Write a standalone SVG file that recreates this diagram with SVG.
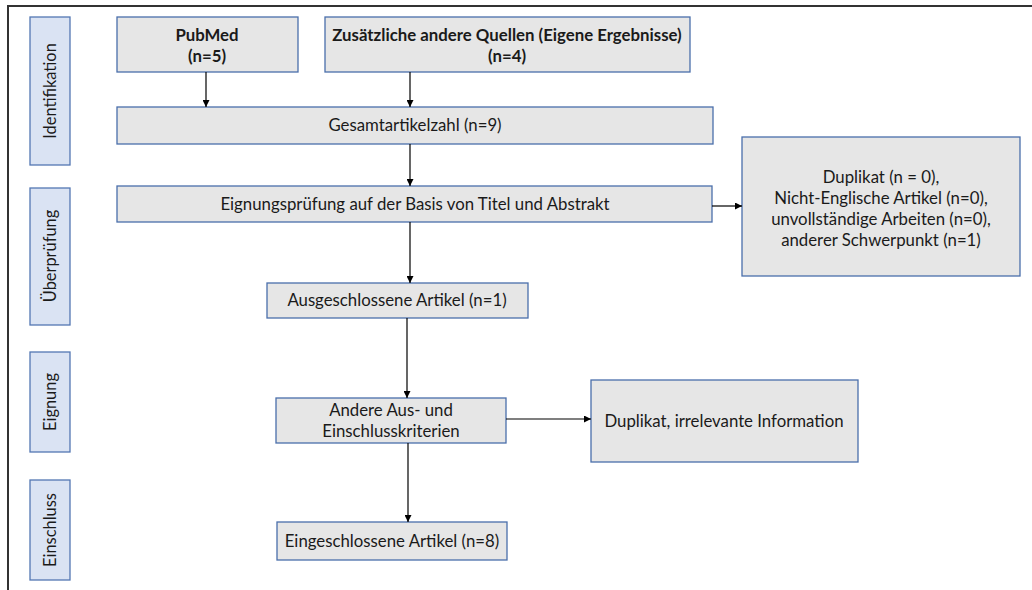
<svg xmlns="http://www.w3.org/2000/svg" width="1032" height="590" viewBox="0 0 1032 590">
<style>
.box{fill:#e6e6e6;stroke:#4a6fab;stroke-width:1.3}
.side{fill:#dae3f3;stroke:#5377b3;stroke-width:1.3}
text{font-family:"Lato","Liberation Sans",sans-serif;font-size:16.8px;fill:#1a1a1a;text-anchor:middle}
.b{font-weight:bold}
.s{font-size:16.4px}
.conn line{stroke:#000;stroke-width:1.2}
</style>
<defs>
<marker id="ah" viewBox="0 0 10 10" refX="10" refY="5" markerWidth="7" markerHeight="7" markerUnits="userSpaceOnUse" orient="auto">
<path d="M0,0 L10,5 L0,10 z" fill="#000"/>
</marker>
</defs>
<rect width="1032" height="590" fill="#fff"/>
<path d="M8,590 V6 H1032" fill="none" stroke="#333" stroke-width="2"/>

<g id="lbl-identifikation"><rect class="side" x="30" y="17" width="40" height="148"/><text class="s" transform="translate(56,91) rotate(-90)">Identifikation</text></g>
<g id="lbl-ueberpruefung"><rect class="side" x="30" y="188" width="40" height="137"/><text class="s" transform="translate(56,256) rotate(-90)">Überprüfung</text></g>
<g id="lbl-eignung"><rect class="side" x="30" y="352" width="40" height="100"/><text class="s" transform="translate(56,402) rotate(-90)">Eignung</text></g>
<g id="lbl-einschluss"><rect class="side" x="30" y="480" width="40" height="100"/><text class="s" transform="translate(56,530) rotate(-90)">Einschluss</text></g>

<g id="pubmed"><rect class="box" x="117" y="17" width="181" height="55"/><text class="b" x="207" y="41">PubMed</text><text class="b" x="207" y="62">(n=5)</text></g>
<g id="andere-quellen"><rect class="box" x="325" y="17" width="365" height="55"/><text class="b" x="507" y="41">Zusätzliche andere Quellen (Eigene Ergebnisse)</text><text class="b" x="507" y="62">(n=4)</text></g>
<g id="gesamt"><rect class="box" x="117" y="107" width="596" height="37"/><text x="415" y="131">Gesamtartikelzahl (n=9)</text></g>
<g id="eignungspruefung"><rect class="box" x="117" y="186" width="595" height="36"/><text x="415" y="210">Eignungsprüfung auf der Basis von Titel und Abstrakt</text></g>
<g id="ausschluss-gruende"><rect class="box" x="742" y="137" width="278" height="139"/><text x="881" y="183">Duplikat (n = 0),</text><text x="881" y="204">Nicht-Englische Artikel (n=0),</text><text x="881" y="225">unvollständige Arbeiten (n=0),</text><text x="881" y="246">anderer Schwerpunkt (n=1)</text></g>
<g id="ausgeschlossene"><rect class="box" x="267" y="283" width="261" height="35"/><text x="397" y="306">Ausgeschlossene Artikel (n=1)</text></g>
<g id="andere-kriterien"><rect class="box" x="276" y="398" width="230" height="45"/><text x="391" y="416">Andere Aus- und</text><text x="391" y="437">Einschlusskriterien</text></g>
<g id="duplikat"><rect class="box" x="591" y="380" width="267" height="82"/><text x="724" y="427">Duplikat, irrelevante Information</text></g>
<g id="eingeschlossene"><rect class="box" x="277" y="522" width="230" height="38"/><text x="392" y="547">Eingeschlossene Artikel (n=8)</text></g>

<g id="connectors" class="conn">
<line x1="206" y1="72" x2="206" y2="107" marker-end="url(#ah)"/>
<line x1="410" y1="72" x2="410" y2="107" marker-end="url(#ah)"/>
<line x1="410" y1="144" x2="410" y2="186" marker-end="url(#ah)"/>
<line x1="712" y1="206" x2="742" y2="206" marker-end="url(#ah)"/>
<line x1="410" y1="222" x2="410" y2="283" marker-end="url(#ah)"/>
<line x1="407" y1="318" x2="407" y2="398" marker-end="url(#ah)"/>
<line x1="506" y1="419" x2="591" y2="419" marker-end="url(#ah)"/>
<line x1="408" y1="443" x2="408" y2="522" marker-end="url(#ah)"/>
</g>
</svg>
